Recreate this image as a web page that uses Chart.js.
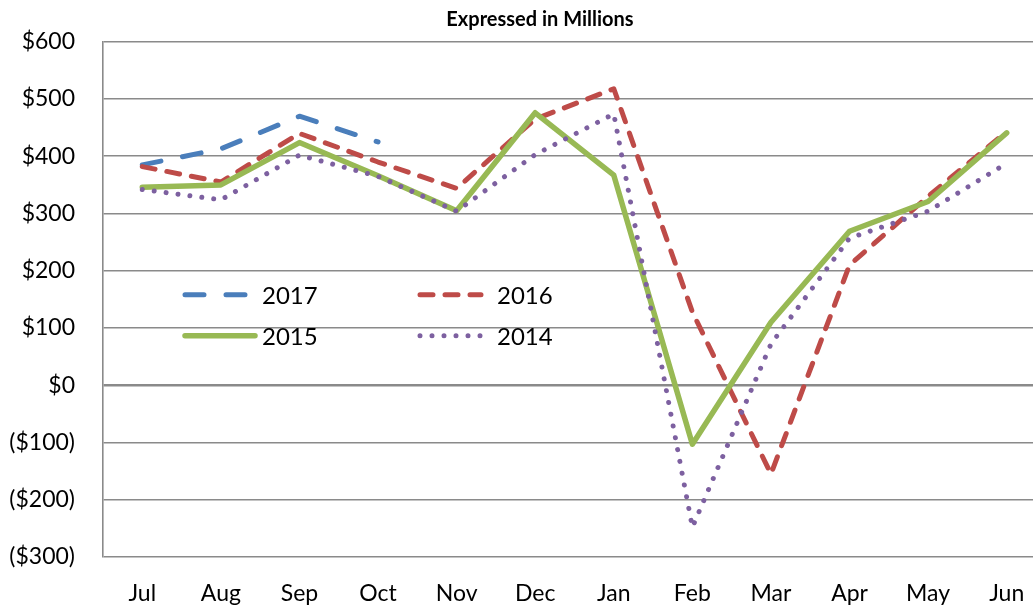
<!DOCTYPE html>
<html>
<head>
<meta charset="utf-8">
<title>Expressed in Millions</title>
<script src="https://cdn.jsdelivr.net/npm/chart.js@4.4.1/dist/chart.umd.min.js"></script>
<style>
  html, body { margin: 0; padding: 0; background: #fff; overflow: hidden; }
  #wrap { width: 1050px; height: 609px; }
</style>
</head>
<body>
<div id="wrap"><canvas id="earningsChart" width="1050" height="609"></canvas></div>
<script>
// Data (millions of dollars)
const months = ['Jul', 'Aug', 'Sep', 'Oct', 'Nov', 'Dec', 'Jan', 'Feb', 'Mar', 'Apr', 'May', 'Jun'];
const fy2017 = [385, 413, 470, 425, null, null, null, null, null, null, null, null];
const fy2016 = [382, 355, 440, 390, 344, 465, 518, 128, -155, 210, 330, 443];
const fy2015 = [346, 350, 424, 366, 305, 476, 367, -103, 110, 269, 321, 441];
const fy2014 = [342, 324, 402, 365, 304, 403, 474, -248, 72, 257, 304, 388];
const yMin = -300;
const yMax = 600;
const yStep = 100;

const FONT = 'Lato, "Open Sans", sans-serif';

function money(v) {
    return v < 0 ? '($' + Math.abs(v) + ')' : '$' + v;
}

// Title drawn above the plot
const titlePlugin = {
    id: 'topTitle',
    afterDraw(chart) {
        const ctx = chart.ctx;
        ctx.save();
        ctx.font = 'bold 20px ' + FONT;
        ctx.fillStyle = '#000';
        ctx.textAlign = 'center';
        ctx.textBaseline = 'alphabetic';
        ctx.fillText('Expressed in Millions', 540, 26);
        ctx.restore();
    }
};

// Two-column legend sitting inside the plot area
const legendPlugin = {
    id: 'insideLegend',
    afterDraw(chart) {
        const ctx = chart.ctx;
        const a = chart.chartArea;
        const items = [
            { ds: 0, x: 82, y: 253, len: 63 },
            { ds: 1, x: 317, y: 253, len: 61 },
            { ds: 2, x: 82, y: 294, len: 70 },
            { ds: 3, x: 317, y: 294, len: 61 }
        ];
        items.forEach(function(it) {
            const ds = chart.data.datasets[it.ds];
            const x0 = a.left + it.x;
            const y0 = a.top + it.y;
            ctx.save();
            ctx.strokeStyle = ds.borderColor;
            ctx.lineWidth = ds.borderWidth;
            ctx.lineCap = 'round';
            ctx.setLineDash(ds.borderDash || []);
            ctx.beginPath();
            ctx.moveTo(x0, y0);
            ctx.lineTo(x0 + it.len, y0);
            ctx.stroke();
            ctx.setLineDash([]);
            ctx.font = '24px ' + FONT;
            ctx.fillStyle = '#000';
            ctx.textAlign = 'left';
            ctx.textBaseline = 'middle';
            ctx.fillText(ds.label, x0 + 77, y0 + 1);
            ctx.restore();
        });
    }
};

function series(label, data, color, width, dash, order) {
    return {
        label: label,
        data: data,
        borderColor: color,
        backgroundColor: color,
        borderWidth: width,
        borderDash: dash,
        borderCapStyle: 'round',
        borderJoinStyle: 'round',
        pointRadius: 0,
        pointHoverRadius: 0,
        tension: 0,
        fill: false,
        spanGaps: false,
        order: order
    };
}

document.addEventListener('DOMContentLoaded', function() {
    const ctx = document.getElementById('earningsChart').getContext('2d');

    new Chart(ctx, {
        type: 'line',
        data: {
            labels: months,
            datasets: [
                series('2017', fy2017, '#4A7EBB', 5, [19, 22], 4),
                series('2016', fy2016, '#BE4B48', 5, [13, 12], 3),
                series('2015', fy2015, '#98B954', 5.5, [], 2),
                series('2014', fy2014, '#7D60A0', 5, [0.001, 12], 1)
            ]
        },
        options: {
            responsive: false,
            animation: false,
            layout: { padding: { top: 36, right: 4, bottom: 0, left: 0 } },
            plugins: {
                legend: { display: false },
                title: { display: false },
                tooltip: { enabled: false }
            },
            scales: {
                x: {
                    offset: true,
                    grid: { display: false, drawTicks: false },
                    border: { display: false },
                    ticks: {
                        color: '#000',
                        padding: 23,
                        font: { family: FONT, size: 23 },
                        maxRotation: 0
                    },
                    afterFit: function(scale) { scale.height = 52; }
                },
                y: {
                    min: yMin,
                    max: yMax,
                    grid: {
                        color: '#8a8a8a',
                        lineWidth: function(c) { return c.tick && c.tick.value === 0 ? 2.6 : 1.6; },
                        drawTicks: false
                    },
                    border: { display: true, color: '#8a8a8a', width: 1.6 },
                    ticks: {
                        stepSize: yStep,
                        color: '#000',
                        padding: 28,
                        font: { family: FONT, size: 23 },
                        callback: function(value) { return money(value); }
                    },
                    afterFit: function(scale) { scale.width = 103; }
                }
            }
        },
        plugins: [titlePlugin, legendPlugin]
    });
});
</script>
</body>
</html>
